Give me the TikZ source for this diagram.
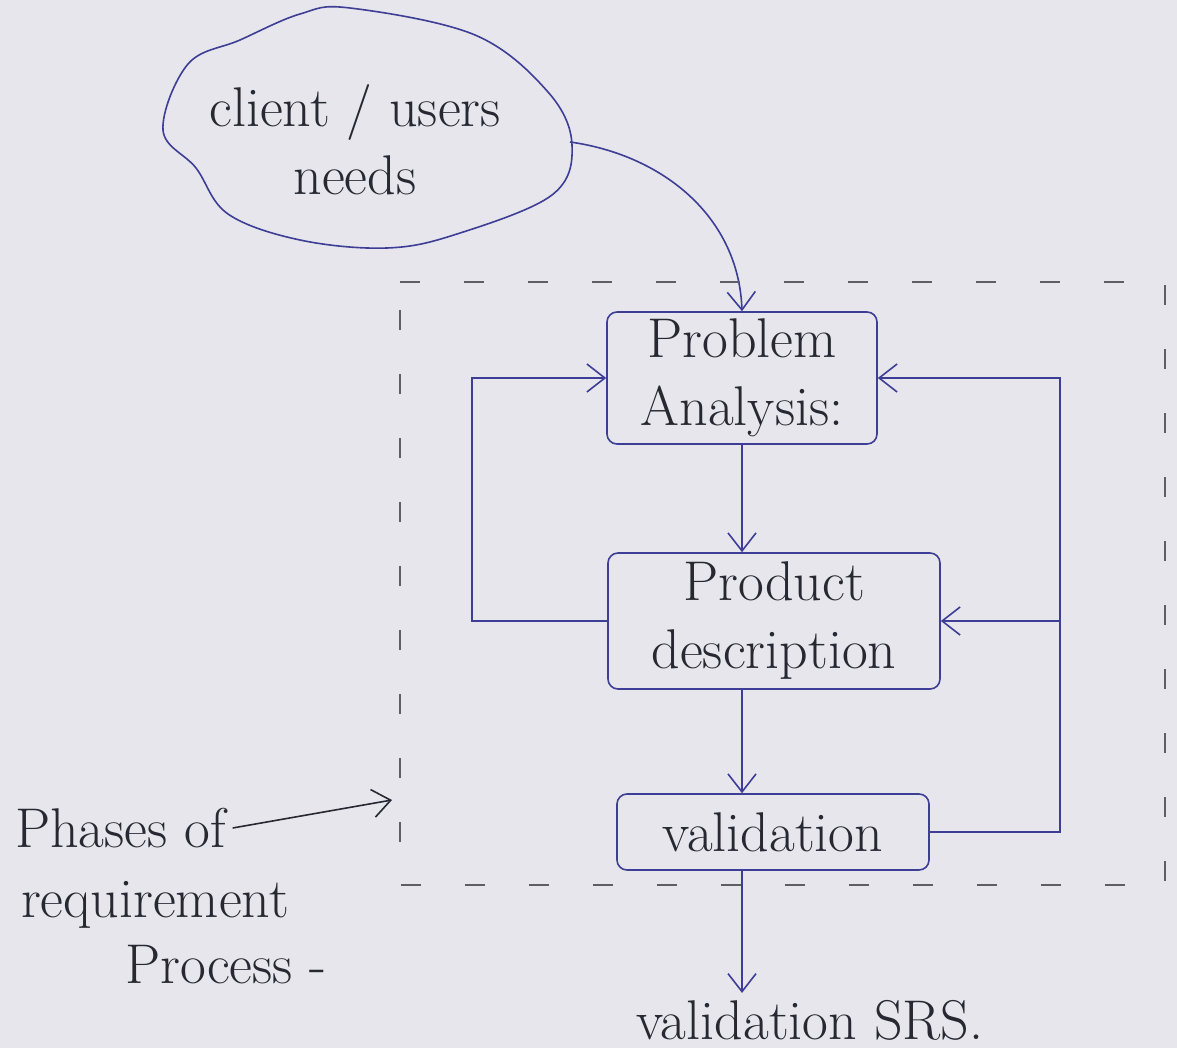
\documentclass[tikz,border=0pt]{standalone}
\usetikzlibrary{arrows.meta,positioning,shapes}
\definecolor{ink}{RGB}{62,62,150}
\definecolor{pencil}{RGB}{40,40,50}
\definecolor{paper}{RGB}{230,230,236}
\begin{document}
\begin{tikzpicture}[x=0.5pt,y=-0.5pt,
  hand/.style={font=\fontsize{28}{34}\selectfont,text=pencil},
  stage/.style={hand,draw=ink,thick,align=center,inner sep=2pt,rounded corners=5pt},
  flow/.style={draw=ink,thick,-{Straight Barb[length=9pt,width=14pt]}},
  fence/.style={draw=pencil!75,very thick,dash pattern=on 10pt off 22pt}]
\useasboundingbox[fill=paper] (0,0) rectangle (1177,1048);
% the client cloud
\draw[ink,thick] plot[smooth cycle,tension=0.6] coordinates {(163,130) (188,64) (240,40) (300,14) (350,8) (475,35) (548,92) (572,145) (552,195) (457,234) (387,248) (300,240) (228,214) (196,168)};
\node[hand,align=center] (needs) at (355,140) {client / users\\ needs};
\coordinate (cloudout) at (570,142);
% stages
\node[stage,minimum width=135pt,minimum height=66pt] (prob) at (742,378) {Problem\\ Analysis:};
\node[stage,minimum width=166pt,minimum height=68pt] (prod) at (774,621) {Product\\ description};
\node[stage,minimum width=156pt,minimum height=38pt] (valid) at (773,832) {validation};
\node[hand] (srs) at (810,1020) {validation SRS.};
\draw[flow] (cloudout) to[out=-8,in=92] (prob.north);
\draw[flow] (prob.south) -- (prob.south |- prod.north);
\draw[flow] (prod.south -| prob.south) -- (valid.north -| prob.south);
\draw[flow] (valid.south -| prob.south) -- (srs.north -| prob.south);
% feedback loops
\draw[flow] (prod.west) -- ++(-135,0) |- (prob.west);
\coordinate (rbus) at (1060,378);
\draw[flow] (valid.east) -| (rbus) -- (prob.east);
\draw[flow] (rbus |- prod.east) -- (prod.east);
% process boundary
\draw[fence] (400,282) -- (1165,282) -- (1165,885) -- (400,885) -- cycle;
\coordinate (fencew) at (392,800);
\node[hand,anchor=west] (phases) at (8,828) {Phases of};
\node[hand,anchor=west] (req) at (14,905) {requirement};
\node[hand,anchor=west] (proc) at (118,965) {Process -};
\draw[flow,draw=pencil] (phases.east) -- (fencew);
\end{tikzpicture}
\end{document}
